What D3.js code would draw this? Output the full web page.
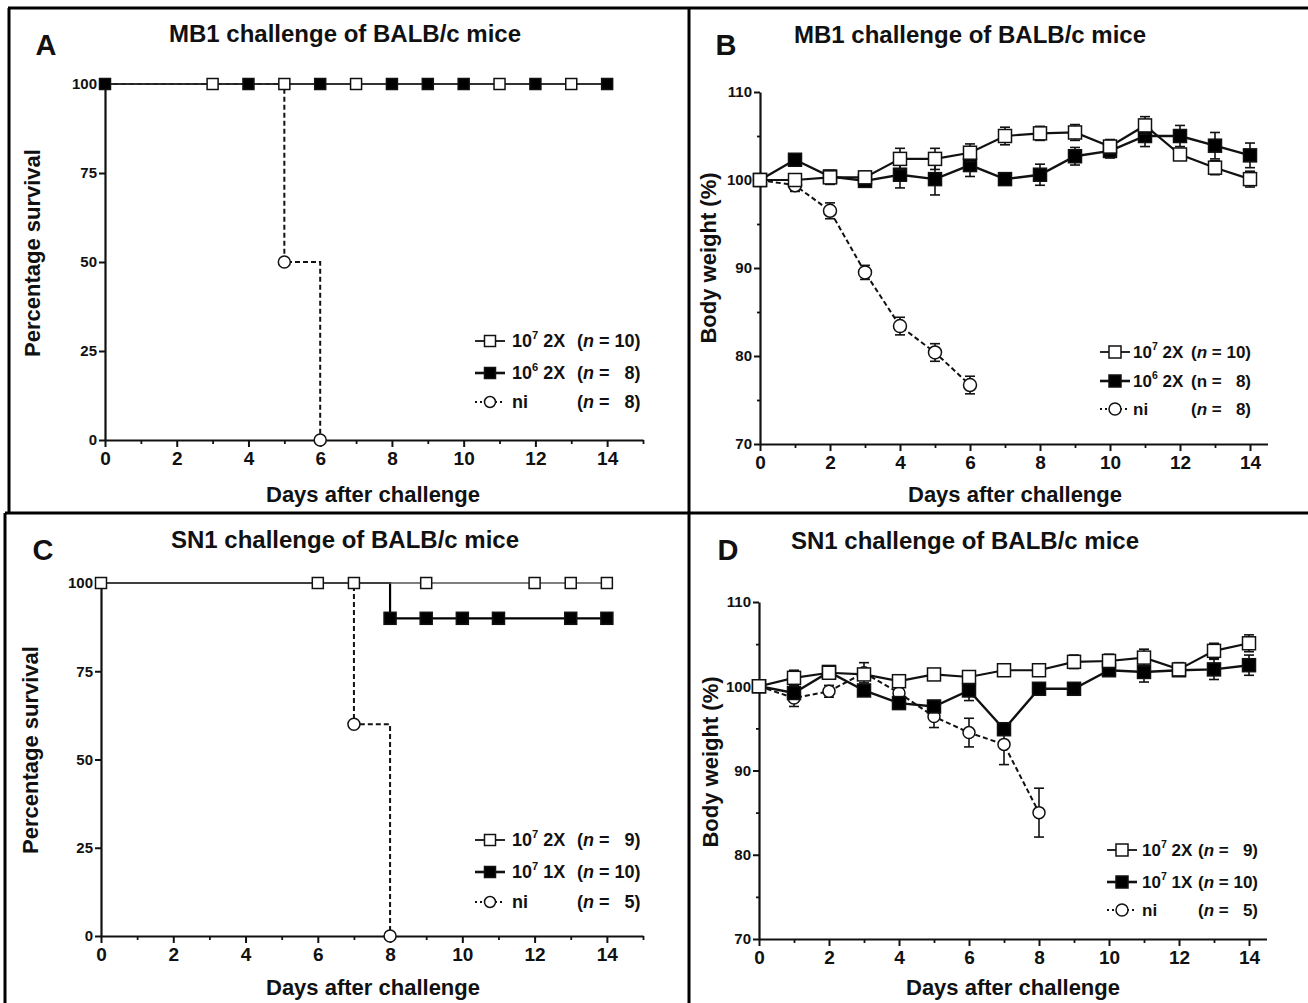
<!DOCTYPE html>
<html><head><meta charset="utf-8">
<script src="https://cdn.jsdelivr.net/npm/d3@7"></script>
<style>
body{margin:0;background:#fff;}
svg text{font-family:"Liberation Sans",Arial,sans-serif;font-weight:bold;fill:#111;}
.narrow{font-family:"Liberation Sans Narrow","Liberation Sans",Arial,sans-serif;}
</style></head><body>
<svg id="c" width="1308" height="1003"></svg>
<script>
// ---------------- DATA ----------------
// Panel A: MB1 survival (Kaplan-Meier step curves)
const A_g1_times = [0, 14], A_g1_surv = [100, 100], A_g1_marks = [3, 5, 7, 11, 13];
const A_g2_times = [0, 14], A_g2_surv = [100, 100], A_g2_marks = [0, 4, 6, 8, 9, 10, 12, 14];
const A_ni_times = [0, 5, 6], A_ni_surv = [100, 50, 0], A_ni_marks = [5, 6];
// Panel C: SN1 survival
const C_g1_times = [0, 14], C_g1_surv = [100, 100], C_g1_marks = [0, 6, 7, 9, 12, 13, 14];
const C_g2_times = [0, 8, 14], C_g2_surv = [100, 90, 90], C_g2_marks = [8, 9, 10, 11, 13, 14];
const C_ni_times = [0, 7, 8], C_ni_surv = [100, 60, 0], C_ni_marks = [7, 8];
// Panel B: MB1 body weight (%)
const B_days = [0,1,2,3,4,5,6,7,8,9,10,11,12,13,14];
const B_g1 = [100,100.0,100.3,100.3,102.4,102.4,103.1,105.0,105.3,105.4,103.8,106.2,102.9,101.4,100.1];
const B_g1_err = [0,0.7,0.8,0.7,1.2,1.2,1.0,1.0,0.8,0.9,0.8,1.0,0.5,0.8,0.9];
const B_g2 = [100,102.3,100.4,99.9,100.6,100.1,101.7,100.1,100.6,102.7,103.3,105.0,105.0,103.9,102.8];
const B_g2_err = [0,0.5,0.6,0.6,1.5,1.8,1.3,0.6,1.2,1.0,0.8,1.2,1.2,1.5,1.4];
const B_ni_days = [0,1,2,3,4,5,6];
const B_ni = [100,99.4,96.5,89.5,83.4,80.4,76.7];
const B_ni_err = [0,0.7,0.9,0.8,1.0,1.0,1.0];
// Panel D: SN1 body weight (%)
const D_days = [0,1,2,3,4,5,6,7,8,9,10,11,12,13,14];
const D_g1 = [100,101.0,101.6,101.4,100.6,101.4,101.1,101.9,101.9,102.9,103.0,103.4,102.0,104.2,105.1];
const D_g1_err = [0,0.9,0.5,0.5,0.7,0.4,0.4,0.4,0.4,0.8,0.8,1.0,0.8,0.9,1.0];
const D_g2 = [100,99.2,101.7,99.5,98.0,97.6,99.5,94.9,99.7,99.7,101.9,101.7,101.9,102.0,102.5];
const D_g2_err = [0,0.6,0.3,0.5,0.4,0.6,1.2,0.6,0.3,0.3,0.7,1.2,0.7,1.2,1.2];
const D_ni_days = [0,1,2,3,4,5,6,7,8];
const D_ni = [100,98.6,99.4,101.6,99.2,96.4,94.5,93.1,85.0];
const D_ni_err = [0,1.0,0.7,1.2,1.0,1.3,1.7,2.4,2.9];
// Tick values
const survTicks = [0, 25, 50, 75, 100];
const weightTicks = [70, 80, 90, 100, 110];
const weightMinor = [75, 85, 95, 105];
const dayLabels = [0, 2, 4, 6, 8, 10, 12, 14];
// Text
const titleMB1 = "MB1 challenge of BALB/c mice";
const titleSN1 = "SN1 challenge of BALB/c mice";
const xTitle = "Days after challenge";
const ySurv = "Percentage survival";
const yWeight = "Body weight (%)";
const legA = [{t:'open', base:'10', sup:'7', rest:' 2X', n:'10', it:true},
              {t:'filled', base:'10', sup:'6', rest:' 2X', n:'  8', it:true},
              {t:'ni', base:'ni', n:'  8', it:true}];
const legB = [{t:'open', base:'10', sup:'7', rest:' 2X', n:'10', it:true},
              {t:'filled', base:'10', sup:'6', rest:' 2X', n:'  8', it:false},
              {t:'ni', base:'ni', n:'  8', it:true}];
const legC = [{t:'open', base:'10', sup:'7', rest:' 2X', n:'  9', it:true},
              {t:'filled', base:'10', sup:'7', rest:' 1X', n:'10', it:true},
              {t:'ni', base:'ni', n:'  5', it:true}];
const legD = legC;

// ---------------- DRAW ----------------
const svg = d3.select('#c');

// panel frame lines
[[8,8,1308,8],[9,8,9,513],[5,513,5,1003],[689,8,689,1003],[5,513,1308,513]].forEach(l=>{
  svg.append('line').attr('x1',l[0]).attr('y1',l[1]).attr('x2',l[2]).attr('y2',l[3])
    .attr('stroke','#000').attr('stroke-width',3);
});

function marker(g, type, cx, cy, s) {
  if (type === 'circle') {
    g.append('circle').attr('cx',cx).attr('cy',cy).attr('r',s/2)
      .attr('fill','#fff').attr('stroke','#111').attr('stroke-width',1.5);
  } else {
    g.append('rect').attr('x',cx-s/2).attr('y',cy-s/2).attr('width',s).attr('height',s)
      .attr('fill', type==='filled' ? '#000' : '#fff')
      .attr('stroke','#111').attr('stroke-width',1.5);
  }
}

function axes(x, y, xmaxTick, yMajor, yMinor, yFont) {
  const y0 = y.range()[0];
  const x0 = x.range()[0];
  svg.append('g').attr('transform',`translate(0,${y0})`)
    .call(d3.axisBottom(x).tickValues(d3.range(1, xmaxTick+1, 2)).tickSize(4).tickFormat(''))
    .call(g=>{g.select('.domain').remove(); g.selectAll('line').attr('stroke','#111').attr('stroke-width',1.8);});
  svg.append('g').attr('transform',`translate(0,${y0})`)
    .call(d3.axisBottom(x).tickValues(dayLabels).tickSize(7).tickSizeOuter(0).tickPadding(5))
    .call(g=>{
      g.select('.domain').attr('stroke','#111').attr('stroke-width',2.2);
      g.selectAll('line').attr('stroke','#111').attr('stroke-width',2);
      g.selectAll('text').attr('class','narrow').style('font-size','19px').attr('fill','#111');
    });
  if (yMinor) {
    svg.append('g').attr('transform',`translate(${x0},0)`)
      .call(d3.axisLeft(y).tickValues(yMinor).tickSize(3).tickFormat(''))
      .call(g=>{g.select('.domain').remove(); g.selectAll('line').attr('stroke','#111').attr('stroke-width',1.8);});
  }
  svg.append('g').attr('transform',`translate(${x0},0)`)
    .call(d3.axisLeft(y).tickValues(yMajor).tickSize(6).tickSizeOuter(0).tickPadding(2))
    .call(g=>{
      g.select('.domain').attr('stroke','#111').attr('stroke-width',2.2);
      g.selectAll('line').attr('stroke','#111').attr('stroke-width',2);
      g.selectAll('text').attr('class','narrow').style('font-size',yFont+'px').attr('fill','#111');
    });
}

function labels(title, tx, ty, letter, lx, ly, xt, xtx, xty, yt, ytx, yty) {
  svg.append('text').attr('x',tx).attr('y',ty).attr('text-anchor','middle').style('font-size','24px').text(title);
  svg.append('text').attr('x',lx).attr('y',ly).attr('text-anchor','middle').style('font-size','29px').text(letter);
  svg.append('text').attr('x',xtx).attr('y',xty).attr('text-anchor','middle').style('font-size','22px').text(xt);
  svg.append('text').attr('transform',`translate(${ytx},${yty}) rotate(-90)`).attr('text-anchor','middle').style('font-size','22px').text(yt);
}

function legend(rows, symX, textX, parenX, ys, fs, ms) {
  rows.forEach((r,i)=>{
    const y = ys[i];
    const g = svg.append('g');
    if (r.t === 'ni') {
      g.append('line').attr('x1',symX-15).attr('x2',symX+15).attr('y1',y).attr('y2',y)
        .attr('stroke','#111').attr('stroke-width',1.8).attr('stroke-dasharray','2,3');
      marker(g,'circle',symX,y,ms);
    } else {
      g.append('line').attr('x1',symX-15).attr('x2',symX+15).attr('y1',y).attr('y2',y)
        .attr('stroke','#111').attr('stroke-width',r.t==='filled'?2.6:1.8);
      marker(g,r.t,symX,y,ms);
    }
    const t = g.append('text').attr('x',textX).attr('y',y+fs*0.36).style('font-size',fs+'px');
    t.append('tspan').text(r.base);
    if (r.sup) {
      t.append('tspan').attr('dy',-fs*0.45).style('font-size',(fs*0.62)+'px').text(r.sup);
      t.append('tspan').attr('dy',fs*0.45).text(r.rest);
    }
    const t2 = g.append('text').attr('x',parenX).attr('y',y+fs*0.36).style('font-size',fs+'px').style('white-space','pre');
    t2.append('tspan').text('(');
    t2.append('tspan').style('font-style', r.it ? 'italic' : 'normal').text('n');
    t2.append('tspan').text(' = ' + r.n + ')');
  });
}

function stepVal(times, surv, t) {
  let v = surv[0];
  times.forEach((tt,i)=>{ if (tt <= t) v = surv[i]; });
  return v;
}

function survivalPanel(box, groups) {
  const x = d3.scaleLinear().domain([0,15]).range([box.x0, box.x1]);
  const y = d3.scaleLinear().domain([0,100]).range([box.y0, box.y1]);
  const line = d3.line().x(d=>x(d[0])).y(d=>y(d[1])).curve(d3.curveStepAfter);
  axes(x, y, 15, survTicks, null, 15);
  groups.forEach(gr=>{
    const pts = gr.times.map((t,i)=>[t, gr.surv[i]]);
    svg.append('path').attr('d', line(pts)).attr('fill','none')
      .attr('stroke', gr.color).attr('stroke-width', gr.w)
      .attr('stroke-dasharray', gr.dash || null);
  });
  groups.forEach(gr=>{
    const g = svg.append('g');
    gr.marks.forEach(m=> marker(g, gr.mk, x(m), y(stepVal(gr.times, gr.surv, m)), gr.ms));
  });
}

function weightPanel(box, groups) {
  const x = d3.scaleLinear().domain([0,14.5]).range([box.x0, box.x1]);
  const y = d3.scaleLinear().domain([70,110]).range([box.y0, box.y1]);
  axes(x, y, 14, weightTicks, weightMinor, 15);
  const line = d3.line().x(d=>x(d[0])).y(d=>y(d[1]));
  groups.forEach(gr=>{
    const pts = gr.days.map((d,i)=>[d, gr.vals[i], gr.err[i]]);
    const g = svg.append('g');
    g.append('path').attr('d', line(pts)).attr('fill','none').attr('stroke','#111')
      .attr('stroke-width', gr.w).attr('stroke-dasharray', gr.dash || null);
    pts.filter(p=>p[2]>0).forEach(p=>{
      const cx = x(p[0]), yl = y(p[1]-p[2]), yh = y(p[1]+p[2]);
      g.append('line').attr('x1',cx).attr('x2',cx).attr('y1',yl).attr('y2',yh).attr('stroke','#111').attr('stroke-width',1.6);
      [yl,yh].forEach(yy=> g.append('line').attr('x1',cx-5).attr('x2',cx+5).attr('y1',yy).attr('y2',yy).attr('stroke','#111').attr('stroke-width',1.6));
    });
    pts.forEach(p=> marker(g, gr.mk, x(p[0]), y(p[1]), gr.ms));
  });
}

// Panel A
survivalPanel({x0:105, x1:643, y0:440, y1:84}, [
  {times:A_ni_times, surv:A_ni_surv, marks:A_ni_marks, mk:'circle', ms:12, color:'#111', w:2, dash:'5,3'},
  {times:A_g1_times, surv:A_g1_surv, marks:A_g1_marks, mk:'open', ms:11, color:'#333', w:1.5},
  {times:A_g2_times, surv:A_g2_surv, marks:A_g2_marks, mk:'filled', ms:11, color:'#222', w:1.5}
]);
labels(titleMB1, 345, 42, 'A', 46, 55, xTitle, 373, 502, ySurv, 40, 253);
legend(legA, 490, 512, 577, [341, 373, 402], 18, 11);

// Panel C
survivalPanel({x0:101, x1:643, y0:936, y1:583}, [
  {times:C_ni_times, surv:C_ni_surv, marks:C_ni_marks, mk:'circle', ms:12, color:'#111', w:2, dash:'5,3'},
  {times:C_g2_times, surv:C_g2_surv, marks:C_g2_marks, mk:'filled', ms:12, color:'#000', w:2.2},
  {times:C_g1_times, surv:C_g1_surv, marks:C_g1_marks, mk:'open', ms:11, color:'#555', w:1.5}
]);
labels(titleSN1, 345, 548, 'C', 43, 560, xTitle, 373, 995, ySurv, 38, 750);
legend(legC, 490, 512, 577, [840, 872, 902], 18, 11);

// Panel B
weightPanel({x0:760, x1:1267.5, y0:444, y1:92}, [
  {days:B_ni_days, vals:B_ni, err:B_ni_err, mk:'circle', ms:13, w:2, dash:'5,3'},
  {days:B_days, vals:B_g2, err:B_g2_err, mk:'filled', ms:13, w:2.4},
  {days:B_days, vals:B_g1, err:B_g1_err, mk:'open', ms:13, w:2.2}
]);
labels(titleMB1, 970, 43, 'B', 726, 55, xTitle, 1015, 502, yWeight, 716, 258);
legend(legB, 1115, 1133, 1191, [352, 381, 409], 17, 12);

// Panel D
weightPanel({x0:759, x1:1266.5, y0:939, y1:602}, [
  {days:D_ni_days, vals:D_ni, err:D_ni_err, mk:'circle', ms:12, w:2, dash:'5,3'},
  {days:D_days, vals:D_g2, err:D_g2_err, mk:'filled', ms:13, w:2.4},
  {days:D_days, vals:D_g1, err:D_g1_err, mk:'open', ms:13, w:2.2}
]);
labels(titleSN1, 965, 549, 'D', 728, 560, xTitle, 1013, 995, yWeight, 718, 762);
legend(legD, 1122, 1142, 1198, [850, 882, 910], 17, 12);
</script>
</body></html>
